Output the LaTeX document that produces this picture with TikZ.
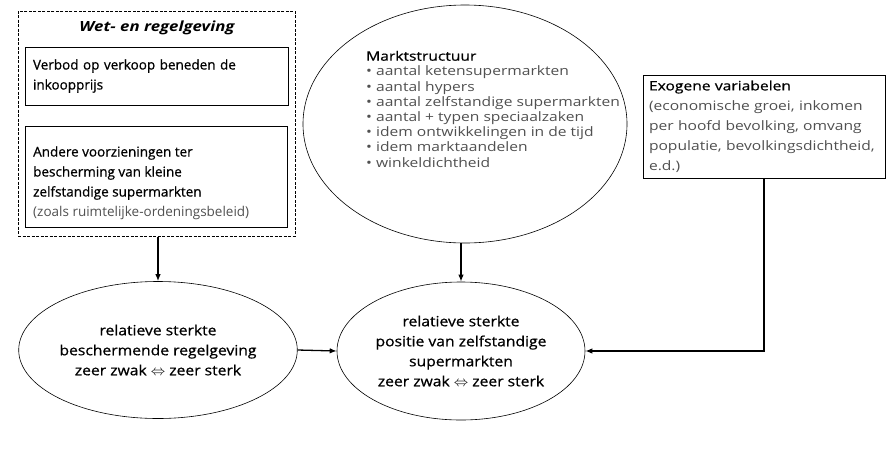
\documentclass[tikz,border=0pt]{standalone}
\usepackage{fontspec}
\setmainfont{Open Sans}
\newfontfamily\zwaarfont{Open Sans}[FakeBold=0.7]
\newfontfamily\breedfont{Open Sans}[FakeStretch=1.2]
\newfontfamily\breedzwaar{Open Sans}[FakeStretch=1.2,FakeBold=0.7]
\newfontfamily\ovaalfont{Open Sans}[FakeStretch=1.12,FakeBold=0.7]
\usepackage{xcolor}
\usetikzlibrary{shapes.geometric,arrows.meta,positioning,calc}
\definecolor{detailgray}{RGB}{80,80,80}

\begin{document}
\begin{tikzpicture}[x=1pt, y=-1pt, >={Latex[length=7pt,width=5.5pt]},
  kader/.style={rectangle, draw, line width=0.8pt, inner sep=0pt},
  ovaal/.style={ellipse, draw, line width=0.6pt, inner sep=0pt},
  tekst/.style={font=\zwaarfont\fontsize{13.5}{20}\selectfont, align=left},
  breed/.style={font=\breedfont\fontsize{13}{20}\selectfont, align=left},
  uitkomst/.style={ovaal, font=\ovaalfont\fontsize{14}{20}\selectfont, align=center},
  pijl/.style={->, line width=1.3pt}]
\useasboundingbox (0,0) rectangle (887,448);
% Wet- en regelgeving (left column)
\node[kader, line width=1pt, dash pattern=on 3pt off 1.5pt, minimum width=277pt, minimum height=225pt] (wet) at (156.5,123.5) {};
\node[font=\breedfont\fontsize{14}{16}\selectfont\bfseries\itshape] (wettitel) at (157,28) {Wet- en regelgeving};
\node[kader, tekst, minimum width=263pt, minimum height=58pt, text width=247pt] (verbod) at (156.5,76) {Verbod op verkoop beneden de\\inkoopprijs};
\node[kader, minimum width=262pt, minimum height=101pt] (andere) at (156,176.5) {};
\node[tekst, inner sep=0pt, anchor=west] (anderetekst) at (33,183) {Andere voorzieningen ter\\bescherming van kleine\\zelfstandige supermarkten\\{\normalfont\color{detailgray}(zoals ruimtelijke-ordeningsbeleid)}};
% Marktstructuur (top ellipse)
\node[ovaal, minimum width=324pt, minimum height=238pt] (markt) at (465,124) {};
\node[breed, font=\breedfont\fontsize{13}{15.2}\selectfont, text=detailgray, inner sep=0pt, anchor=west] (marktlijst) at (366,109) {\textcolor{black}{\breedzwaar Marktstructuur}\\• aantal ketensupermarkten\\• aantal hypers\\• aantal zelfstandige supermarkten\\• aantal + typen speciaalzaken\\• idem ontwikkelingen in de tijd\\• idem marktaandelen\\• winkeldichtheid};
% Exogene variabelen (right box)
\node[kader, breed, text=detailgray, minimum width=242pt, minimum height=103pt, text width=230pt] (exo) at (764,126.5) {\textcolor{black}{\breedzwaar Exogene variabelen}\\(economische groei, inkomen\\per hoofd bevolking, omvang\\populatie, bevolkingsdichtheid,\\e.d.)};
% Bottom row
\node[uitkomst, minimum width=248pt, minimum height=137pt] (regel) at (158,350) {relatieve sterkte\\beschermende regelgeving\\zeer zwak $\Leftrightarrow$ zeer sterk};
\node[uitkomst, minimum width=248pt, minimum height=138pt] (positie) at (461,351) {relatieve sterkte\\positie van zelfstandige\\supermarkten\\zeer zwak $\Leftrightarrow$ zeer sterk};
% Connectors
\draw[pijl] (regel.north |- wet.south) -- (regel.north);
\draw[pijl] (positie.north |- markt.south) -- (positie.north);
\draw[pijl] (regel.east) -- (positie.west);
\draw[pijl] (exo.south) |- (positie.east);
\end{tikzpicture}
\end{document}
